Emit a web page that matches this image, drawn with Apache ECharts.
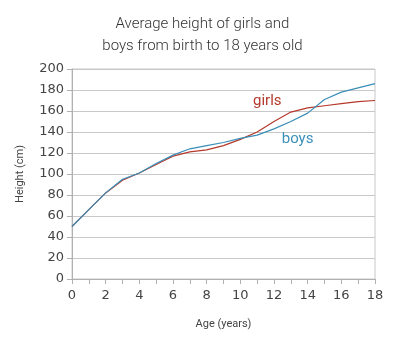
<!DOCTYPE html>
<html>
<head>
<meta charset="utf-8">
<script src="https://cdn.jsdelivr.net/npm/echarts@6/dist/echarts.min.js"></script>
<style>
  html, body { margin: 0; padding: 0; background: #fff; }
  #chart { width: 405px; height: 351px; }
</style>
</head>
<body>
<div id="chart"></div>
<script>
// ages in years
var ages = [0, 1, 2, 3, 4, 5, 6, 7, 8, 9, 10, 11, 12, 13, 14, 15, 16, 17, 18];
// average height, cm
var girls = [50, 66, 82, 94, 101, 109, 117, 121, 123, 127, 133, 140, 150, 159, 163, 165, 167, 169, 170];
var boys = [50, 66, 82, 95, 101, 110, 118, 124, 127, 130, 134, 137, 143, 150, 158, 171, 178, 182, 186];

var girlsColor = '#b5392c';
var boysColor = '#3a8fb9';
var narrow = 'Roboto, Liberation Sans, sans-serif';

function pairs(vals) {
    return ages.map(function (a, i) { return [a, vals[i]]; });
}

// series name written inside the plot, in the series colour
function tag(text, color, at) {
    return {
        symbol: 'circle',
        symbolSize: 1,
        itemStyle: { color: 'rgba(0,0,0,0)' },
        label: {
            show: true,
            position: 'inside',
            formatter: text,
            fontFamily: narrow,
            fontSize: 15,
            color: color
        },
        data: [{ coord: at }]
    };
}

var chart = echarts.init(document.getElementById('chart'));

chart.setOption({
    animation: false,
    title: {
        text: 'Average height of girls and\nboys from birth to 18 years old',
        left: 'center',
        top: 8,
        textStyle: {
            fontFamily: narrow,
            fontWeight: 300,
            fontSize: 15,
            lineHeight: 22,
            color: '#333'
        }
    },
    grid: {
        left: 72, right: 30, top: 69, bottom: 72,
        show: true,
        borderColor: '#c8c8c8',
        borderWidth: 1
    },
    xAxis: {
        type: 'value',
        min: 0, max: 18, interval: 2,
        name: 'Age (years)',
        nameLocation: 'middle',
        nameGap: 40,
        nameTextStyle: { fontFamily: narrow, fontSize: 11, color: '#444' },
        axisLine: { lineStyle: { color: '#b0b0b0' } },
        axisTick: { length: 5, lineStyle: { color: '#b0b0b0' } },
        minorTick: { show: true, splitNumber: 2, length: 5, lineStyle: { color: '#b0b0b0' } },
        axisLabel: { fontFamily: 'DejaVu Sans, sans-serif', fontSize: 13, color: '#444', margin: 10 },
        splitLine: { show: false }
    },
    yAxis: {
        type: 'value',
        min: 0, max: 200, interval: 20,
        name: 'Height (cm)',
        nameLocation: 'middle',
        nameGap: 46,
        nameTextStyle: { fontFamily: narrow, fontSize: 11, color: '#444' },
        axisLine: { show: true, lineStyle: { color: '#b0b0b0' } },
        axisTick: { show: true, length: 5, lineStyle: { color: '#b0b0b0' } },
        axisLabel: { fontFamily: 'DejaVu Sans, sans-serif', fontSize: 13, color: '#444', margin: 8 },
        splitLine: { lineStyle: { color: '#c8c8c8' } }
    },
    series: [
        {
            name: 'girls',
            type: 'line',
            data: pairs(girls),
            showSymbol: false,
            lineStyle: { color: girlsColor, width: 1.2 },
            itemStyle: { color: girlsColor },
            markPoint: tag('girls', girlsColor, [11.6, 169])
        },
        {
            name: 'boys',
            type: 'line',
            data: pairs(boys),
            showSymbol: false,
            lineStyle: { color: boysColor, width: 1.2 },
            itemStyle: { color: boysColor },
            markPoint: tag('boys', boysColor, [13.4, 133])
        }
    ]
});
</script>
</body>
</html>
